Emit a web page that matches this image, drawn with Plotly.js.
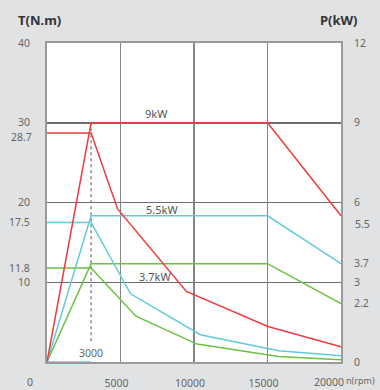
<!DOCTYPE html>
<html><head><meta charset="utf-8">
<script src="https://cdn.plot.ly/plotly-3.0.1.min.js"></script>
<style>html,body{margin:0;padding:0;background:#e1e2e4;}#c{width:380px;height:390px;}</style>
</head><body><div id="c"></div>
<script>
// rpm values and torque (N.m) for each curve
const redPowerX = [0, 3000, 15000, 20000];
const redPowerT = [0, 30, 30, 18.33];
const cyanPowerX = [0, 3000, 15000, 20000];
const cyanPowerT = [0, 18.33, 18.33, 12.33];
const greenPowerX = [0, 3000, 15000, 20000];
const greenPowerT = [0, 12.33, 12.33, 7.33];

const redTorqueX = [0, 3000, 4800, 9480, 15030, 20000];
const redTorqueT = [28.7, 28.7, 19.2, 8.85, 4.46, 1.9];
const cyanTorqueX = [0, 3000, 5680, 10430, 15750, 20000];
const cyanTorqueT = [17.5, 17.5, 8.55, 3.42, 1.42, 0.79];
const greenTorqueX = [0, 3000, 6050, 10200, 15750, 20000];
const greenTorqueT = [11.8, 11.8, 5.75, 2.25, 0.7, 0.29];

const cyanBaseX = [0, 3000];
const cyanBaseT = [0, 0];

const markerX = [3000, 3000];
const markerT = [2.6, 30];

const leftTicks = [10, 11.8, 17.5, 20, 30, 40];
const leftTickText = ['10', '11.8', '17.5', '20', '30', '40'];
const leftExtraTick = 28.7;
const rightTicks = [0, 2.2, 3, 3.7, 6, 9, 12];
const rightTickText = ['0', '2.2', '3', '3.7', '6', '9', '12'];
const rightExtraTick = 5.5;
const xTicks = [5000, 10000, 15000];
const xTickText = ['5000', '10000', '15000'];
const xLastTick = 20000;
const gridT = [10, 20, 30];

const powerLabels = ['9kW', '5.5kW', '3.7kW'];
const powerLabelX = [7450, 7800, 7380];
const powerLabelT = [31.2, 19.1, 10.7];

const RED = '#f03a3e', CYAN = '#62cad9', GREEN = '#6cc043';
function ln(x, y, c) {
  return {x: x, y: y, mode: 'lines', type: 'scatter', line: {color: c, width: 1.5}, hoverinfo: 'skip', showlegend: false};
}
const traces = [
  ln(cyanBaseX, cyanBaseT, CYAN),
  {x: markerX, y: markerT, mode: 'lines', type: 'scatter', line: {color: '#888', width: 1.5, dash: 'dot'}, showlegend: false, hoverinfo: 'skip'},
  ln(greenTorqueX, greenTorqueT, GREEN),
  ln(greenPowerX, greenPowerT, GREEN),
  ln(cyanTorqueX, cyanTorqueT, CYAN),
  ln(cyanPowerX, cyanPowerT, CYAN),
  ln(redTorqueX, redTorqueT, RED),
  ln(redPowerX, redPowerT, RED),
  {x: [0, 20000], y: [0, 0], yaxis: 'y2', mode: 'lines', line: {width: 0}, showlegend: false, hoverinfo: 'skip'}
];

const FONT = 'Noto Sans, Open Sans, sans-serif';
const TF = {size: 10.5, color: '#666', family: FONT};
const anns = [];
powerLabels.forEach((t, i) => anns.push({x: powerLabelX[i], y: powerLabelT[i], xref: 'x', yref: 'y', text: t, showarrow: false, font: {size: 11, color: '#555', family: FONT}}));
anns.push({x: 3000, y: markerT[0], xref: 'x', yref: 'y', yanchor: 'top', yshift: -3, text: '3000', showarrow: false, font: TF});
anns.push({x: 0, y: 0, xref: 'x', yref: 'y', yanchor: 'top', xshift: -17, yshift: -11, text: '0', showarrow: false, font: TF});
anns.push({x: xLastTick, y: 0, xref: 'x', yref: 'y', yanchor: 'top', xshift: -12, yshift: -11, text: String(xLastTick), showarrow: false, font: TF});
anns.push({x: xLastTick, y: 0, xref: 'x', yref: 'y', xanchor: 'left', yanchor: 'top', xshift: 3, yshift: -10, text: 'n(rpm)', showarrow: false, font: {size: 9, color: '#666', family: FONT}});
anns.push({x: 0, y: leftExtraTick, xref: 'paper', yref: 'y', xanchor: 'right', xshift: -13, yshift: -4, text: String(leftExtraTick), showarrow: false, font: TF});
anns.push({x: 1, y: rightExtraTick, xref: 'paper', yref: 'y2', xanchor: 'left', xshift: 12, yshift: -8, text: String(rightExtraTick), showarrow: false, font: TF});
anns.push({x: 0, y: 1, xref: 'paper', yref: 'paper', xanchor: 'center', yanchor: 'bottom', xshift: -8, yshift: 12, text: '<b>T(N.m)</b>', showarrow: false, font: {size: 13, color: '#333', family: FONT}});
anns.push({x: 1, y: 1, xref: 'paper', yref: 'paper', xanchor: 'center', yanchor: 'bottom', xshift: -2, yshift: 12, text: '<b>P(kW)</b>', showarrow: false, font: {size: 13, color: '#333', family: FONT}});

const layout = {
  width: 380, height: 390,
  margin: {l: 47, r: 39, t: 43, b: 28, pad: 0},
  paper_bgcolor: '#e1e2e4', plot_bgcolor: '#ffffff',
  font: TF,
  showlegend: false,
  xaxis: {range: [0, 20000], tickmode: 'array', tickvals: xTicks, ticktext: xTickText,
    showgrid: true, gridcolor: '#858585', gridwidth: 1.6, zeroline: false,
    showline: true, linecolor: '#9a9a9a', linewidth: 2, mirror: true, ticks: '', ticklabelshift: -4, ticklabelstandoff: 10, tickfont: TF},
  yaxis: {range: [0, 40], tickmode: 'array', tickvals: leftTicks, ticktext: leftTickText,
    showgrid: false, zeroline: false, showline: true, linecolor: '#9a9a9a', linewidth: 2, mirror: true,
    ticks: '', ticklabelstandoff: 13, tickfont: TF,
    minor: {tickmode: 'array', tickvals: gridT, showgrid: true, gridcolor: '#6e6e6e', gridwidth: 1.5, ticks: ''}},
  yaxis2: {range: [0, 12], overlaying: 'y', side: 'right', tickmode: 'array', tickvals: rightTicks, ticktext: rightTickText,
    showgrid: false, zeroline: false, showline: false, ticks: '', ticklabelstandoff: 12, tickfont: TF},
  annotations: anns
};
Plotly.newPlot('c', traces, layout, {staticPlot: true, displayModeBar: false});
</script></body></html>
